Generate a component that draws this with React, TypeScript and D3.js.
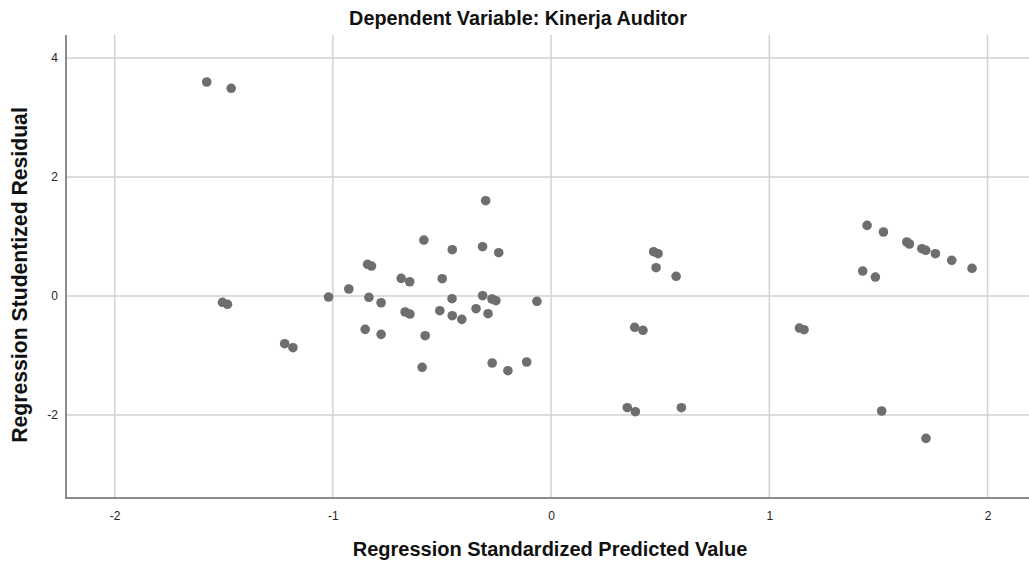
import {useEffect, useRef} from "react";
import * as d3 from "d3";

// Regression Standardized Predicted Value (x) / Studentized Residual (y)
const predicted = [
    -1.578, -1.466, -1.506, -1.483, -1.221, -1.183, -1.020, -0.927, -0.841, -0.823,
    -0.835, -0.852, -0.779, -0.779, -0.300, -0.583, -0.453, -0.314, -0.240, -0.687,
    -0.648, -0.499, -0.454, -0.314, -0.271, -0.253, -0.065, -0.669, -0.647, -0.510,
    -0.453, -0.409, -0.344, -0.289, -0.577, -0.591, -0.270, -0.198, -0.112, 0.470,
    0.490, 0.481, 0.573, 0.383, 0.421, 0.349, 0.386, 0.597, 1.138, 1.159,
    1.448, 1.523, 1.630, 1.642, 1.699, 1.717, 1.761, 1.836, 1.929, 1.428,
    1.486, 1.515, 1.718,
];
const residual = [
    3.597, 3.491, -0.106, -0.139, -0.802, -0.869, -0.017, 0.118, 0.533, 0.504,
    -0.022, -0.560, -0.113, -0.644, 1.602, 0.941, 0.778, 0.829, 0.728, 0.297,
    0.240, 0.291, -0.045, 0.005, -0.050, -0.079, -0.089, -0.269, -0.303, -0.247,
    -0.331, -0.392, -0.213, -0.297, -0.667, -1.198, -1.126, -1.255, -1.109, 0.745,
    0.711, 0.476, 0.331, -0.526, -0.576, -1.877, -1.945, -1.877, -0.538, -0.566,
    1.187, 1.076, 0.908, 0.874, 0.795, 0.768, 0.711, 0.600, 0.466, 0.420,
    0.319, -1.933, -2.392,
];
const xTicks = [-2, -1, 0, 1, 2];
const yTicks = [-2, 0, 2, 4];
const xDomain = [-2.223, 2.19];
const yDomain = [-3.395, 4.387];

const title = "Dependent Variable: Kinerja Auditor";
const xLabel = "Regression Standardized Predicted Value";
const yLabel = "Regression Studentized Residual";

export default function App() {

    const chartRef = useRef<SVGSVGElement>(null);

    useEffect(() => {
        const width = 1029;
        const height = 566;
        const marginTop = 35;
        const marginRight = 0;
        const marginBottom = 68;
        const marginLeft = 66;

        if (!chartRef.current) {
            return;
        }

        const svg = d3.select(chartRef.current);
        svg.selectAll("*").remove();
        svg.attr("viewBox", [0, 0, width, height])
            .attr("font-family", "Liberation Sans, Arial, sans-serif");

        const xScale = d3.scaleLinear()
            .domain(xDomain)
            .range([marginLeft, width - marginRight]);

        const yScale = d3.scaleLinear()
            .domain(yDomain)
            .range([height - marginBottom, marginTop]);

        // grid lines
        svg.append("g")
            .attr("stroke", "#d2d2d2")
            .attr("stroke-width", 1.5)
            .selectAll("line.v")
            .data(xTicks)
            .join("line")
            .attr("x1", d => xScale(d))
            .attr("x2", d => xScale(d))
            .attr("y1", marginTop)
            .attr("y2", height - marginBottom);

        svg.append("g")
            .attr("stroke", "#d2d2d2")
            .attr("stroke-width", 1.5)
            .selectAll("line.h")
            .data(yTicks)
            .join("line")
            .attr("x1", marginLeft)
            .attr("x2", width - marginRight)
            .attr("y1", d => yScale(d))
            .attr("y2", d => yScale(d));

        // axes: just the lines plus labels, SPSS style (no tick marks)
        const xAxis = svg.append("g")
            .attr("transform", `translate(0,${height - marginBottom})`)
            .call(d3.axisBottom(xScale).tickValues(xTicks).tickSize(0).tickPadding(13).tickFormat(d => String(d)));
        xAxis.select(".domain").remove();
        xAxis.selectAll("text").attr("font-size", 12).attr("fill", "#222");

        const yAxis = svg.append("g")
            .attr("transform", `translate(${marginLeft},0)`)
            .call(d3.axisLeft(yScale).tickValues(yTicks).tickSize(0).tickPadding(8).tickFormat(d => String(d)));
        yAxis.select(".domain").remove();
        yAxis.selectAll("text").attr("font-size", 12).attr("fill", "#222");

        svg.append("path")
            .attr("fill", "none")
            .attr("stroke", "#8c8c8c")
            .attr("stroke-width", 2)
            .attr("d", `M${marginLeft},${marginTop}V${height - marginBottom}H${width - marginRight}`);

        // points
        svg.append("g")
            .attr("fill", "#6e6e6e")
            .selectAll("circle")
            .data(predicted.map((x, i) => [x, residual[i]]))
            .join("circle")
            .attr("cx", d => xScale(d[0]))
            .attr("cy", d => yScale(d[1]))
            .attr("r", 4.8);

        // titles
        svg.append("text")
            .attr("x", 518)
            .attr("y", 25)
            .attr("text-anchor", "middle")
            .attr("font-size", 19.8)
            .attr("font-weight", "bold")
            .attr("fill", "#111")
            .text(title);

        svg.append("text")
            .attr("x", 550)
            .attr("y", 556)
            .attr("text-anchor", "middle")
            .attr("font-size", 20)
            .attr("font-weight", "bold")
            .attr("fill", "#111")
            .text(xLabel);

        svg.append("text")
            .attr("transform", `translate(27,275) rotate(-90)`)
            .attr("text-anchor", "middle")
            .attr("font-size", 21.2)
            .attr("font-weight", "bold")
            .attr("fill", "#111")
            .text(yLabel);

    }, []);

    return (
        <svg ref={chartRef} width={1029} height={566}
             style={{position: "absolute", left: 0, top: 0, background: "#fff"}}/>
    );
}
